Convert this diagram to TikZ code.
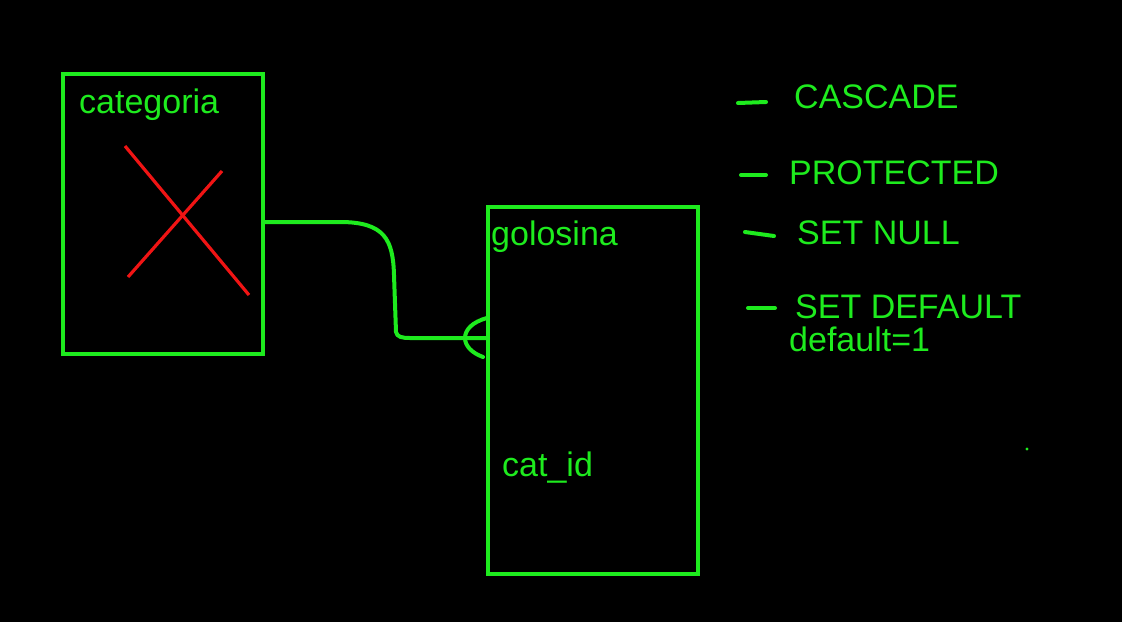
\documentclass[tikz,border=0pt]{standalone}
\usepackage{fontspec}
\setmainfont{Liberation Sans}
\definecolor{grn}{RGB}{30,235,30}
\definecolor{rd}{RGB}{240,20,20}
\begin{document}
\begin{tikzpicture}[x=1pt,y=-1pt,
  tbl/.style={draw=grn,line width=4pt,fill=none},
  lbl/.style={text=grn,anchor=base west,inner sep=0pt,font=\fontsize{34}{40}\selectfont},
  legdash/.style={draw=grn,line width=4pt,line cap=round},
  conn/.style={draw=grn,line width=4pt,line cap=round,line join=round}]
\fill[black] (0,0) rectangle (1122,622);
\useasboundingbox (0,0) rectangle (1122,622);
% tables
\draw[tbl] (63,74) rectangle (263,354);
\draw[tbl] (488,207) rectangle (698,574);
\coordinate (catR) at (263,222);
\coordinate (golL) at (488,338);
\node[lbl] (tcat) at (79,113) {categoria};
\node[lbl] (tgol) at (491,245) {golosina};
\node[lbl] (tcid) at (502,476) {cat\_id};
% red X
\draw[rd,line width=3.2pt] (125,146) -- (249,295);
\draw[rd,line width=3.2pt] (222,171) -- (128,277);
% connector
\draw[conn] (catR) -- (340,222) .. controls (385,222) and (393,240) .. (394,275) -- (396,332) .. controls (397,337) and (402,338) .. (410,338) -- (golL);
% crow's foot
\draw[conn] (487,318) .. controls (472,322) and (465,330) .. (465,338) .. controls (465,346) and (472,353) .. (483,357);
% legend
\coordinate (d1a) at (738,103); \coordinate (d1b) at (766,102);
\coordinate (d2a) at (741,175); \coordinate (d2b) at (766,175);
\coordinate (d3a) at (745,232); \coordinate (d3b) at (774,236);
\coordinate (d4a) at (748,308); \coordinate (d4b) at (775,308);
\draw[legdash] (d1a) -- (d1b);
\draw[legdash] (d2a) -- (d2b);
\draw[legdash] (d3a) -- (d3b);
\draw[legdash] (d4a) -- (d4b);
\node[lbl] (l1) at (794,108) {CASCADE};
\node[lbl] (l2) at (789,184) {PROTECTED};
\node[lbl] (l3) at (797,244) {SET NULL};
\node[lbl] (l4) at (795,318) {SET DEFAULT};
\node[lbl] (l5) at (789,351) {default=1};
\fill[grn] (1027,449) circle (1.6);
\end{tikzpicture}
\end{document}
